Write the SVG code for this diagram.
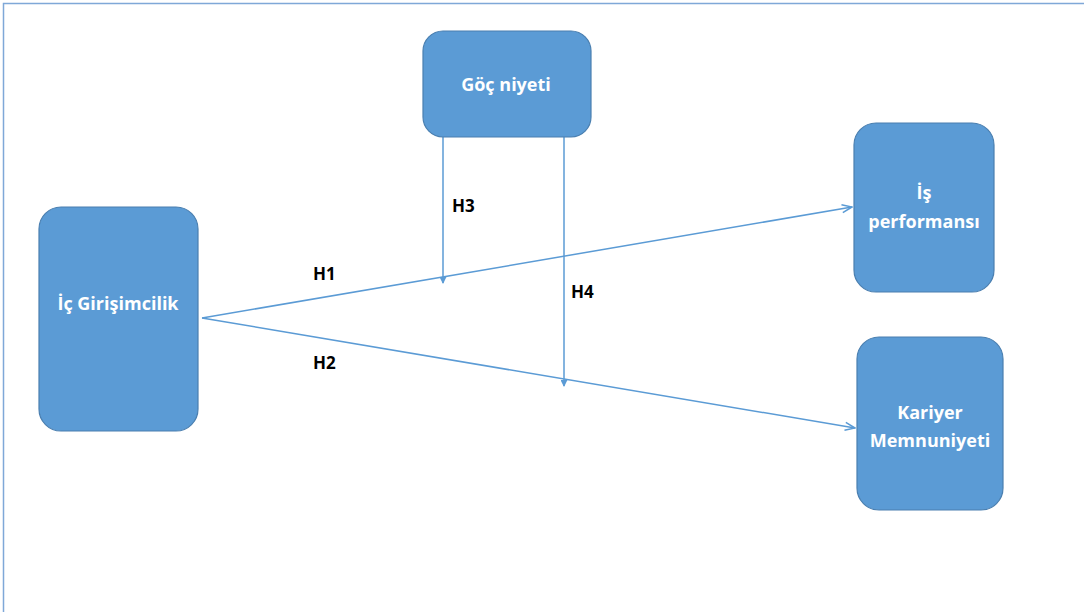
<svg xmlns="http://www.w3.org/2000/svg" width="1084" height="612" viewBox="0 0 1084 612">
  <style>
    .box { fill: #5b9bd5; stroke: #4a7fb0; stroke-width: 1.2; }
    .lbl { font-family: "Open Sans", "Liberation Sans", sans-serif; font-weight: bold; font-size: 18px; fill: #ffffff; text-anchor: middle; }
    .h { font-family: "Open Sans", "Liberation Sans", sans-serif; font-weight: bold; font-size: 17px; fill: #000000; }
    .wire { stroke: #5b9bd5; stroke-width: 1.5; fill: none; }
  </style>
  <defs>
    <marker id="open" viewBox="0 0 12 10" refX="11" refY="5" markerWidth="12" markerHeight="10" markerUnits="userSpaceOnUse" orient="auto">
      <path d="M1,1 L11,5 L1,9" fill="none" stroke="#5b9bd5" stroke-width="1.5"/>
    </marker>
    <marker id="tip" viewBox="0 0 8 8" refX="7" refY="4" markerWidth="7" markerHeight="7" markerUnits="userSpaceOnUse" orient="auto">
      <path d="M0,0 L8,4 L0,8 Z" fill="#5b9bd5"/>
    </marker>
  </defs>

  <!-- frame -->
  <path d="M3.5,612 L3.5,3.5 L1084,3.5" fill="none" stroke="#7fa8d8" stroke-width="1.5"/>

  <g id="connectors">
    <line class="wire" x1="202" y1="318" x2="852" y2="207" marker-end="url(#open)"/>
    <line class="wire" x1="202" y1="318" x2="855" y2="428" marker-end="url(#open)"/>
    <line class="wire" x1="443" y1="137" x2="443" y2="283" marker-end="url(#tip)"/>
    <line class="wire" x1="564" y1="137" x2="564" y2="386" marker-end="url(#tip)"/>
    <text class="h" x="313" y="280">H1</text>
    <text class="h" x="313" y="369">H2</text>
    <text class="h" x="452" y="212">H3</text>
    <text class="h" x="571" y="298">H4</text>
  </g>

  <g id="ic-girisimcilik">
    <rect class="box" x="39" y="207" width="159" height="224" rx="22"/>
    <text class="lbl" x="118" y="310">İç Girişimcilik</text>
  </g>

  <g id="goc-niyeti">
    <rect class="box" x="423" y="31" width="168" height="106" rx="20"/>
    <text class="lbl" x="506" y="91">Göç niyeti</text>
  </g>

  <g id="is-performansi">
    <rect class="box" x="854" y="123" width="140" height="169" rx="22"/>
    <text class="lbl" x="924" y="199">İş</text>
    <text class="lbl" x="924" y="228">performansı</text>
  </g>

  <g id="kariyer-memnuniyeti">
    <rect class="box" x="857" y="337" width="146" height="173" rx="22"/>
    <text class="lbl" x="930" y="419">Kariyer</text>
    <text class="lbl" x="930" y="447">Memnuniyeti</text>
  </g>
</svg>
